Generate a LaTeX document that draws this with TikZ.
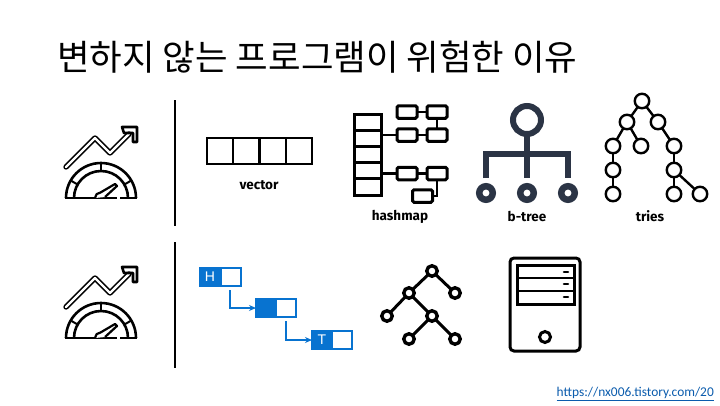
\documentclass[tikz,border=0pt]{standalone}
\usepackage{fontspec}
\newfontfamily\krfont{Noto Sans CJK KR}
\newfontfamily\lblfont{Fira Sans}
\newfontfamily\urlfont{Carlito}
\newfontfamily\hfont{Liberation Sans}
\usetikzlibrary{arrows.meta}
\definecolor{navy}{HTML}{2B3445}
\definecolor{lblue}{HTML}{0873D0}
\definecolor{urlblue}{HTML}{0B5CAD}
\tikzset{
  lbl/.style={font=\lblfont\bfseries\fontsize{13.5}{14}\selectfont,inner sep=0pt},
  hbox/.style={draw=black,line width=3pt,rounded corners=1.5pt,minimum width=20pt,minimum height=12.5pt,inner sep=0pt,outer sep=0pt},
  hline/.style={line width=2.6pt},
  cell/.style={draw=black,line width=2.3pt,minimum width=26.3pt,minimum height=26pt,inner sep=0pt,outer sep=0pt},
  col/.style={draw=black,line width=3pt,minimum width=27pt,minimum height=16.2pt,inner sep=0pt,outer sep=0pt},
  trie/.style={circle,draw=black,line width=2.4pt,minimum size=14.5pt,inner sep=0pt,outer sep=0pt},
  trieline/.style={line width=2.4pt},
  tn/.style={circle,draw=black,line width=3.4pt,minimum size=10.5pt,inner sep=0pt,outer sep=0pt},
  tl/.style={line width=3pt},
  bleaf/.style={circle,draw=navy,line width=6.5pt,minimum size=13.5pt,inner sep=0pt,outer sep=0pt},
  llhalf/.style={draw=lblue,line width=2.2pt,minimum height=18pt,minimum width=20pt,inner sep=0pt,outer sep=0pt},
  llfill/.style={llhalf,fill=lblue,text=white,font=\hfont\fontsize{14}{14}\selectfont},
  llarrow/.style={draw=lblue,line width=1.8pt,-{Stealth[length=7pt,width=6pt]}},
  speed/.pic={
    \draw[line width=5.4pt,line cap=round,line join=round] (66,167)--(95,138)--(110,153)--(129,134);
    \draw[line width=2.2pt,white,line cap=round,line join=round] (66,167)--(95,138)--(110,153)--(129,134);
    \draw[line width=2.6pt,line join=round,line cap=round] (122,127)--(137,127)--(137,142)--(133,142)--(133,133)--(124,133)--cycle;
    \draw[white,line width=2pt] (114,149)--(119,144);
    \draw[line width=2.6pt] (66,198) arc[start angle=180,end angle=360,radius=35];
    \draw[line width=2.6pt] (74,198) arc[start angle=180,end angle=360,radius=27];
    \draw[line width=2.6pt] (65,198)--(117,198) (120,198)--(137,198);
    \draw[line width=2pt] (101,163)--(101,171);
    \draw[line width=2pt] (70.7,180.5)--(77.6,184.5);
    \draw[line width=2pt] (131.3,180.5)--(124.4,184.5);
    \draw[line width=2.2pt,line join=round,fill=white] (95,198) arc[start angle=180,end angle=270,radius=5.5]--(115,184)--(117,186)--(105,197);
  },
}
\begin{document}
\begin{tikzpicture}[x=1pt,y=-1pt]
\useasboundingbox[fill=white] (0,0) rectangle (720,405);
\node[anchor=west,inner sep=0pt,font=\krfont\fontsize{35.4}{36}\selectfont] (title) at (57,57) {변하지 않는 프로그램이 위험한 이유};
% icons
\pic (iconA) at (0,0) {speed};
\pic (iconB) at (0,140) {speed};
\coordinate (v1a) at (175,100); \coordinate (v1b) at (175,226);
\coordinate (v2a) at (175,242); \coordinate (v2b) at (175,368);
\draw[line width=2.2pt] (v1a)--(v1b);
\draw[line width=2.2pt] (v2a)--(v2b);
% vector
\node[cell] (c1) at (220,151) {};
\node[cell] (c2) at (246.3,151) {};
\node[cell] (c3) at (272.6,151) {};
\node[cell] (c4) at (298.9,151) {};
\node[lbl] (vl) at (259,185) {vector};
% hashmap
\node[col] (k1) at (367.6,122.1) {};
\node[col] (k2) at (367.6,138.3) {};
\node[col] (k3) at (367.6,154.5) {};
\node[col] (k4) at (367.6,170.7) {};
\node[col] (k5) at (367.6,186.9) {};
\node[hbox] (a1) at (407,112) {};
\node[hbox] (a2) at (437,112) {};
\node[hbox] (b1) at (407,135) {};
\node[hbox] (b2) at (437,135) {};
\node[hbox] (d1) at (407,173.5) {};
\node[hbox] (d2) at (437,173.5) {};
\node[hbox] (e1) at (422.5,196) {};
\draw[hline] (a1)--(a2);
\draw[hline] (a2)--(b2);
\draw[hline] (b1)--(b2);
\draw[hline] (k2.east |- b1.west)--(b1.west);
\draw[hline] (d1)--(d2);
\draw[hline] (k4.east |- d1.west)--(d1.west);
\draw[hline] (d2.south)|-(e1.east);
\node[lbl] (hl) at (400,216.5) {hashmap};
% b-tree
\node[circle,draw=navy,line width=6pt,minimum size=28pt,inner sep=0pt,outer sep=0pt] (root) at (527,120) {};
\node[bleaf] (l1) at (486,193) {};
\node[bleaf] (l2) at (527,193) {};
\node[bleaf] (l3) at (568,193) {};
\coordinate (bleft) at (486,178);
\coordinate (bmid) at (527,178);
\coordinate (bright) at (568,178);
\draw[navy,line width=6pt] (root.south)--(bmid);
\draw[navy,line width=6pt] (bleft)--(486,154)--(568,154)--(bright);
\node[lbl] (bl) at (527,216) {b-tree};
% tries
\node[trie] (t0) at (642,101) {};
\node[trie] (t1) at (627,122) {};
\node[trie] (t2) at (658,122) {};
\node[trie] (t3) at (613,146) {};
\node[trie] (t4) at (641,146) {};
\node[trie] (t5) at (674,146) {};
\node[trie] (t6) at (613,170) {};
\node[trie] (t7) at (674,170) {};
\node[trie] (t8) at (613,194) {};
\node[trie] (t9) at (674,194) {};
\node[trie] (t10) at (700,194) {};
\foreach \a/\b in {t0/t1,t0/t2,t1/t3,t1/t4,t2/t5,t3/t6,t6/t8,t5/t7,t7/t9,t7/t10}
  \draw[trieline] (\a)--(\b);
\node[lbl] (tl) at (650,216) {tries};
% linked list
\node[llfill] (h1) at (210,277) {H};
\node[llhalf] (h2) at (231,277) {};
\node[llfill] (m1) at (266,308) {};
\node[llhalf] (m2) at (286,308) {};
\node[llfill] (t1b) at (322,340) {T};
\node[llhalf] (t2b) at (342,340) {};
\coordinate (s1) at (230,290);
\coordinate (s2) at (286,321);
\draw[llarrow] (s1)|-(m1.west);
\draw[llarrow] (s2)|-(t1b.west);
% tree
\node[tn] (n1) at (432,271) {};
\node[tn] (n2) at (409,293) {};
\node[tn] (n3) at (455,293) {};
\node[tn] (n4) at (387,316) {};
\node[tn] (n5) at (432,316) {};
\node[tn] (n6) at (409,339) {};
\node[tn] (n7) at (455,339) {};
\foreach \a/\b in {n1/n2,n1/n3,n2/n4,n2/n5,n5/n6,n5/n7}
  \draw[tl] (\a)--(\b);
% server
\draw[line width=3pt,rounded corners=4pt] (510,258) rectangle (580,351);
\draw[line width=3pt] (517,265) rectangle (574,304);
\draw[line width=2.4pt] (517,278)--(574,278) (517,291)--(574,291);
\foreach \y in {272,284,297}
  \draw[line width=2.6pt,line cap=round] (564,\y)--(568,\y);
\node[circle,draw=black,line width=3pt,minimum size=11pt,inner sep=0pt] (power) at (545,337) {};
% url
\node[anchor=base west,inner sep=0pt,text=urlblue,font=\urlfont\fontsize{13.4}{14}\selectfont] (url) at (556.5,396) {https://nx006.tistory.com/20};
\draw[urlblue,line width=1pt] ([yshift=-4pt]url.base west)--([yshift=-4pt]url.base east);
\end{tikzpicture}
\end{document}
